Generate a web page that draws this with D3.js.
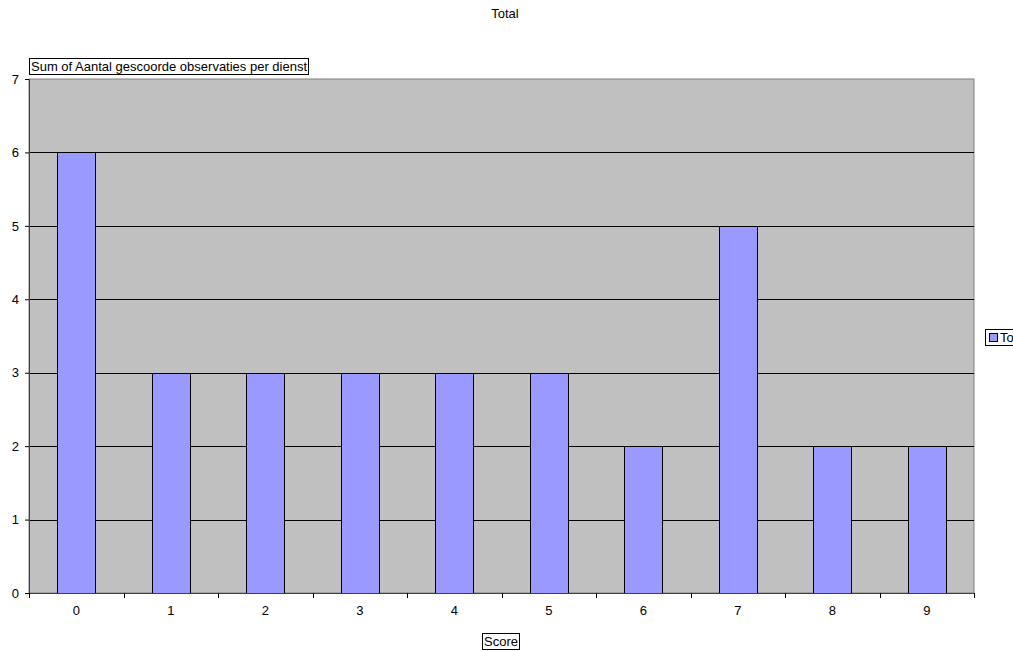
<!DOCTYPE html>
<html>
<head>
<meta charset="utf-8">
<script src="https://cdn.jsdelivr.net/npm/d3@7"></script>
<style>
  body { margin: 0; background: #fff; overflow: hidden; }
  text { font-family: "Liberation Sans", Arial, sans-serif; font-size: 13px; fill: #000; }
</style>
</head>
<body>
<div id="chart"></div>
<script>
const scores = ["0", "1", "2", "3", "4", "5", "6", "7", "8", "9"];
const totals = [6, 3, 3, 3, 3, 3, 2, 5, 2, 2];
const yTicks = [0, 1, 2, 3, 4, 5, 6, 7];
const chartTitle = "Total";
const yLabel = "Sum of Aantal gescoorde observaties per dienst";
const xLabel = "Score";
const seriesName = "Total";

const W = 1013, H = 651;
const margin = {top: 79, right: 39, bottom: 58, left: 29};
const width = W - margin.left - margin.right;
const height = H - margin.top - margin.bottom;

const svg = d3.select("#chart").append("svg")
    .attr("width", W).attr("height", H);

svg.append("text")
    .attr("x", 505).attr("y", 18)
    .attr("text-anchor", "middle")
    .text(chartTitle);

const g = svg.append("g")
    .attr("transform", "translate(" + margin.left + "," + margin.top + ")");

const x = d3.scaleBand().domain(scores).range([0, width]).paddingInner(0).paddingOuter(0);
const y = d3.scaleLinear().domain([0, 7]).range([height, 0]);

// plot area
g.append("rect")
    .attr("x", 0).attr("y", 0)
    .attr("width", width).attr("height", height)
    .attr("fill", "#c0c0c0")
    .attr("stroke", "#808080").attr("stroke-width", 1);

// gridlines
g.selectAll(".grid").data(yTicks.filter(d => d > 0 && d < 7)).enter()
    .append("line")
    .attr("x1", 0).attr("x2", width)
    .attr("y1", d => Math.round(y(d)) + 0.5).attr("y2", d => Math.round(y(d)) + 0.5)
    .attr("stroke", "#000").attr("stroke-width", 1);

// bars
const bw = x.bandwidth() * 0.4;
g.selectAll(".bar").data(totals).enter()
    .append("rect")
    .attr("x", (d, i) => Math.round(x(scores[i]) + (x.bandwidth() - bw) / 2) + 0.5)
    .attr("y", d => Math.round(y(d)) + 0.5)
    .attr("width", Math.round(bw))
    .attr("height", d => Math.round(y(0)) - Math.round(y(d)))
    .attr("fill", "#9999ff")
    .attr("stroke", "#000").attr("stroke-width", 1);

// y axis
const yAxis = g.append("g")
    .call(d3.axisLeft(y).tickValues(yTicks).tickFormat(d3.format("d")).tickSize(4).tickPadding(6));
yAxis.select(".domain").attr("stroke", "#404040");
yAxis.selectAll("text").attr("font-size", "13px").attr("font-family", "Liberation Sans, Arial, sans-serif");

// x axis
const xAxis = g.append("g")
    .attr("transform", "translate(0," + height + ")")
    .call(d3.axisBottom(x).tickSize(0).tickPadding(13));
xAxis.select(".domain").attr("stroke", "#404040");
xAxis.selectAll("text").attr("font-size", "13px").attr("font-family", "Liberation Sans, Arial, sans-serif");
g.selectAll(".xtick").data(d3.range(scores.length + 1)).enter()
    .append("line")
    .attr("x1", d => Math.round(d * x.step()) + 0.5)
    .attr("x2", d => Math.round(d * x.step()) + 0.5)
    .attr("y1", height).attr("y2", height + 5)
    .attr("stroke", "#000");

// boxed labels
function boxLabel(txt, cx, cy, anchor) {
  const t = svg.append("text").attr("x", cx).attr("y", cy)
      .attr("text-anchor", anchor).text(txt);
  const b = t.node().getBBox();
  svg.insert("rect", "text")
      .attr("x", Math.round(b.x) - 1.5).attr("y", Math.round(b.y) - 0.5)
      .attr("width", Math.round(b.width) + 3).attr("height", Math.round(b.height) + 1)
      .attr("fill", "#fff").attr("stroke", "#000");
}
boxLabel(yLabel, 31, 71, "start");
boxLabel(xLabel, 501, 646, "middle");

// legend (cut by the window edge, as in the original)
const leg = svg.append("g").attr("transform", "translate(985,329)");
leg.append("rect").attr("x", 0.5).attr("y", 0.5).attr("width", 60).attr("height", 16)
    .attr("fill", "#fff").attr("stroke", "#000");
leg.append("rect").attr("x", 4.5).attr("y", 4.5).attr("width", 8).attr("height", 8)
    .attr("fill", "#9999ff").attr("stroke", "#000");
leg.append("text").attr("x", 15).attr("y", 13).text(seriesName);
</script>
</body>
</html>
